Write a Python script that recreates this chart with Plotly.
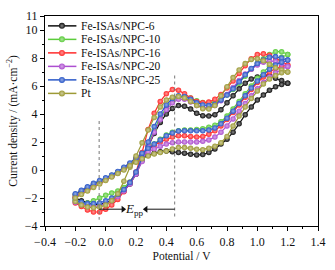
import plotly.graph_objects as go

# ---------------- data ----------------
potential = [-0.20, -0.16, -0.12, -0.08, -0.04, 0.00, 0.04, 0.08, 0.12, 0.16,
             0.20, 0.24, 0.28, 0.32, 0.36, 0.40, 0.44, 0.48, 0.52, 0.56,
             0.60, 0.64, 0.68, 0.72, 0.76, 0.80, 0.84, 0.88, 0.92, 0.96,
             1.00, 1.04, 1.08, 1.12, 1.16, 1.20]

# anodic (forward) branch and return branch, both listed by ascending potential
npc6_fwd = [-2.00, -2.20, -2.35, -2.45, -2.45, -2.35, -2.15, -1.85, -1.50, -1.00,
            -0.30, 0.70, 1.70, 2.60, 3.40, 4.00, 4.40, 4.60, 4.55, 4.35,
            4.05, 3.88, 3.85, 3.95, 4.30, 4.80, 5.30, 5.80, 6.20, 6.50,
            6.65, 6.75, 6.70, 6.55, 6.40, 6.20]
npc6_rev = [-1.75, -1.50, -1.25, -1.00, -0.80, -0.60, -0.40, -0.15, 0.10, 0.35,
            0.60, 0.85, 1.05, 1.20, 1.30, 1.35, 1.30, 1.25, 1.20, 1.12,
            1.08, 1.10, 1.25, 1.50, 1.85, 2.20, 2.70, 3.30, 3.95, 4.50,
            5.00, 5.35, 5.70, 5.95, 6.10, 6.20]

npc10_fwd = [-2.20, -2.35, -2.35, -2.20, -2.00, -1.80, -1.65, -1.50, -1.25, -0.85,
             -0.20, 0.70, 1.80, 2.85, 3.75, 4.45, 4.95, 5.20, 5.25, 5.15,
             4.95, 4.82, 4.80, 4.85, 5.05, 5.35, 5.75, 6.20, 6.70, 7.20,
             7.60, 7.95, 8.25, 8.45, 8.45, 8.25]
npc10_rev = [-1.85, -1.60, -1.35, -1.10, -0.85, -0.65, -0.45, -0.20, 0.10, 0.45,
             0.80, 1.15, 1.50, 1.85, 2.20, 2.50, 2.70, 2.80, 2.85, 2.85,
             2.90, 2.95, 3.05, 3.20, 3.45, 3.85, 4.35, 4.90, 5.45, 6.00,
             6.55, 7.00, 7.40, 7.75, 8.05, 8.25]

npc16_fwd = [-2.35, -2.60, -2.85, -3.00, -3.00, -2.80, -2.50, -2.10, -1.55, -0.90,
             -0.15, 1.25, 2.90, 4.05, 4.90, 5.45, 5.75, 5.70, 5.45, 5.15,
             4.90, 4.80, 4.85, 5.05, 5.40, 5.85, 6.35, 6.90, 7.45, 7.95,
             8.25, 8.30, 8.20, 8.00, 7.75, 7.50]
npc16_rev = [-1.95, -1.70, -1.45, -1.20, -0.95, -0.70, -0.45, -0.20, 0.10, 0.45,
             0.80, 1.15, 1.45, 1.75, 2.00, 2.20, 2.35, 2.45, 2.45, 2.40,
             2.35, 2.40, 2.55, 2.80, 3.15, 3.60, 4.10, 4.65, 5.20, 5.75,
             6.25, 6.65, 7.00, 7.25, 7.40, 7.50]

npc20_fwd = [-2.30, -2.45, -2.55, -2.60, -2.55, -2.40, -2.20, -1.90, -1.50, -1.00,
             -0.30, 0.60, 1.70, 2.70, 3.60, 4.30, 4.80, 5.05, 5.05, 4.85,
             4.60, 4.45, 4.45, 4.60, 4.95, 5.40, 5.90, 6.40, 6.85, 7.20,
             7.50, 7.70, 7.80, 7.75, 7.60, 7.40]
npc20_rev = [-1.90, -1.65, -1.40, -1.15, -0.90, -0.70, -0.45, -0.20, 0.10, 0.40,
             0.70, 1.00, 1.30, 1.50, 1.70, 1.85, 1.95, 2.00, 2.00, 2.00,
             2.00, 2.05, 2.15, 2.35, 2.70, 3.15, 3.65, 4.20, 4.75, 5.30,
             5.80, 6.25, 6.65, 6.95, 7.20, 7.40]

npc25_fwd = [-2.15, -2.30, -2.40, -2.40, -2.35, -2.20, -2.00, -1.75, -1.40, -0.90,
             -0.15, 0.85, 2.00, 3.10, 4.00, 4.65, 5.10, 5.30, 5.25, 5.05,
             4.80, 4.65, 4.60, 4.70, 5.00, 5.35, 5.80, 6.30, 6.80, 7.25,
             7.60, 7.85, 8.05, 8.10, 8.00, 7.85]
npc25_rev = [-1.70, -1.45, -1.20, -0.95, -0.75, -0.55, -0.35, -0.10, 0.20, 0.50,
             0.85, 1.20, 1.55, 1.85, 2.15, 2.45, 2.65, 2.78, 2.80, 2.80,
             2.80, 2.80, 2.85, 3.00, 3.30, 3.70, 4.20, 4.75, 5.30, 5.85,
             6.35, 6.80, 7.20, 7.50, 7.70, 7.85]

pt_fwd = [-2.25, -2.50, -2.65, -2.70, -2.65, -2.50, -2.20, -1.70, -0.80, 0.20,
          1.00, 1.95, 2.85, 3.75, 4.50, 5.00, 5.20, 5.25, 5.15, 4.90,
          4.60, 4.38, 4.35, 4.60, 5.30, 5.95, 6.60, 7.15, 7.60, 7.90,
          7.95, 7.80, 7.55, 7.30, 7.15, 7.00]
pt_rev = [-2.00, -1.75, -1.50, -1.25, -1.00, -0.75, -0.50, -0.25, 0.00, 0.30,
          0.55, 0.80, 1.00, 1.15, 1.25, 1.35, 1.50, 1.60, 1.60, 1.55,
          1.48, 1.45, 1.55, 1.70, 1.95, 2.40, 3.15, 3.85, 4.50, 5.10,
          5.65, 6.15, 6.50, 6.75, 6.95, 7.00]

series_names = ["Fe-ISAs/NPC-6", "Fe-ISAs/NPC-10", "Fe-ISAs/NPC-16",
                "Fe-ISAs/NPC-20", "Fe-ISAs/NPC-25", "Pt"]
series_fwd = [npc6_fwd, npc10_fwd, npc16_fwd, npc20_fwd, npc25_fwd, pt_fwd]
series_rev = [npc6_rev, npc10_rev, npc16_rev, npc20_rev, npc25_rev, pt_rev]
series_colors = ["#111111", "#5ccc3c", "#ff2b2b", "#ad4fd0", "#2a58c8", "#9d9a36"]

x_ticks = [-0.4, -0.2, 0.0, 0.2, 0.4, 0.6, 0.8, 1.0, 1.2, 1.4]
y_ticks = [-4, -2, 0, 2, 4, 6, 8, 10, 11]

# E_pp guides (potentials of the two reference lines)
epp_left = -0.043
epp_right = 0.455
epp_level = -2.8

FONT = "Liberation Serif, Times New Roman, serif"


def tint(hex_color, amount):
    h = hex_color.lstrip("#")
    r, g, b = (int(h[i:i + 2], 16) for i in (0, 2, 4))
    r = int(r + (255 - r) * amount)
    g = int(g + (255 - g) * amount)
    b = int(b + (255 - b) * amount)
    return f"rgb({r},{g},{b})"


fig = go.Figure()

for name, f, r, c in zip(series_names, series_fwd, series_rev, series_colors):
    xs = potential + potential[::-1]
    ys = f + r[::-1]
    fig.add_trace(go.Scatter(
        x=xs, y=ys, mode="lines+markers", name=name, showlegend=False,
        line=dict(color=c, width=1.2),
        marker=dict(size=5.5, color=c,
                    gradient=dict(type="radial", color=tint(c, 0.5)),
                    line=dict(width=0)),
    ))

# manual legend (compact spacing) on an overlay helper axis
leg_top = 0.953
leg_step = 0.0643
for i, (name, c) in enumerate(zip(series_names, series_colors)):
    yy = leg_top - i * leg_step
    fig.add_trace(go.Scatter(
        x=[0.011, 0.062, 0.115], y=[yy, yy, yy], xaxis="x2", yaxis="y2",
        mode="lines", showlegend=False, hoverinfo="skip",
        line=dict(color=c, width=1.5)))
    fig.add_trace(go.Scatter(
        x=[0.062], y=[yy], xaxis="x2", yaxis="y2",
        mode="markers", showlegend=False, hoverinfo="skip",
        marker=dict(size=6, color=c,
                    gradient=dict(type="radial", color=tint(c, 0.5)))))
    fig.add_annotation(x=0.125, y=yy, xref="x2", yref="y2", text=name,
                       showarrow=False, xanchor="left", yanchor="middle",
                       font=dict(family=FONT, size=11.5, color="#111"))

# dotted guide lines
fig.add_shape(type="line", x0=epp_left, x1=epp_left, y0=3.5, y1=-3.55,
              line=dict(color="#777", width=1, dash="dot"))
fig.add_shape(type="line", x0=epp_right, x1=epp_right, y0=6.75, y1=-3.5,
              line=dict(color="#777", width=1, dash="dot"))

# arrows toward the E_pp label (shaft as shapes, heads as triangle markers)
arrow_left_tip = 0.13
arrow_right_tip = 0.25
fig.add_shape(type="line", x0=epp_left, x1=arrow_left_tip - 0.02,
              y0=epp_level, y1=epp_level, line=dict(color="#111", width=1))
fig.add_shape(type="line", x0=epp_right, x1=arrow_right_tip + 0.02,
              y0=epp_level, y1=epp_level, line=dict(color="#111", width=1))
fig.add_trace(go.Scatter(
    x=[arrow_left_tip - 0.015, arrow_right_tip + 0.015], y=[epp_level, epp_level],
    mode="markers", showlegend=False, hoverinfo="skip",
    marker=dict(symbol=["triangle-right", "triangle-left"], size=6,
                color="#111", line=dict(width=0))))
fig.add_annotation(x=0.19, y=-2.85, xref="x", yref="y", showarrow=False,
                   text="<i>E</i><sub>pp</sub>",
                   font=dict(family=FONT, size=13, color="#111"))

axis_common = dict(showline=True, linecolor="black", linewidth=1.3, mirror=True,
                   ticks="outside", ticklen=4, tickwidth=1, tickcolor="black",
                   showgrid=False, zeroline=False,
                   tickfont=dict(family=FONT, size=12, color="#111"))

fig.update_layout(
    width=335, height=270,
    margin=dict(l=45, r=13, t=9, b=40),
    paper_bgcolor="white", plot_bgcolor="white",
    font=dict(family=FONT, size=12, color="#111"),
    xaxis=dict(range=[-0.4, 1.4], tickvals=x_ticks,
               tickformat=".1f",
               minor=dict(dtick=0.1, ticks="outside", ticklen=2, tickcolor="black"),
               title=dict(text="Potential / V", font=dict(family=FONT, size=11.5),
                          standoff=4),
               **axis_common),
    yaxis=dict(range=[-4, 11], tickvals=y_ticks,
               minor=dict(dtick=1, ticks="outside", ticklen=2, tickcolor="black"),
               title=dict(text="Current density / (mA·cm<sup>−2</sup>)",
                          font=dict(family=FONT, size=11.5), standoff=4),
               **axis_common),
    xaxis2=dict(overlaying="x", range=[0, 1], visible=False, fixedrange=True),
    yaxis2=dict(overlaying="y", range=[0, 1], visible=False, fixedrange=True),
    showlegend=False,
)

fig.write_html("out.html",
               config={"displayModeBar": False},
               post_script="document.body.style.margin='0';"
                           "document.body.style.overflow='hidden';")
